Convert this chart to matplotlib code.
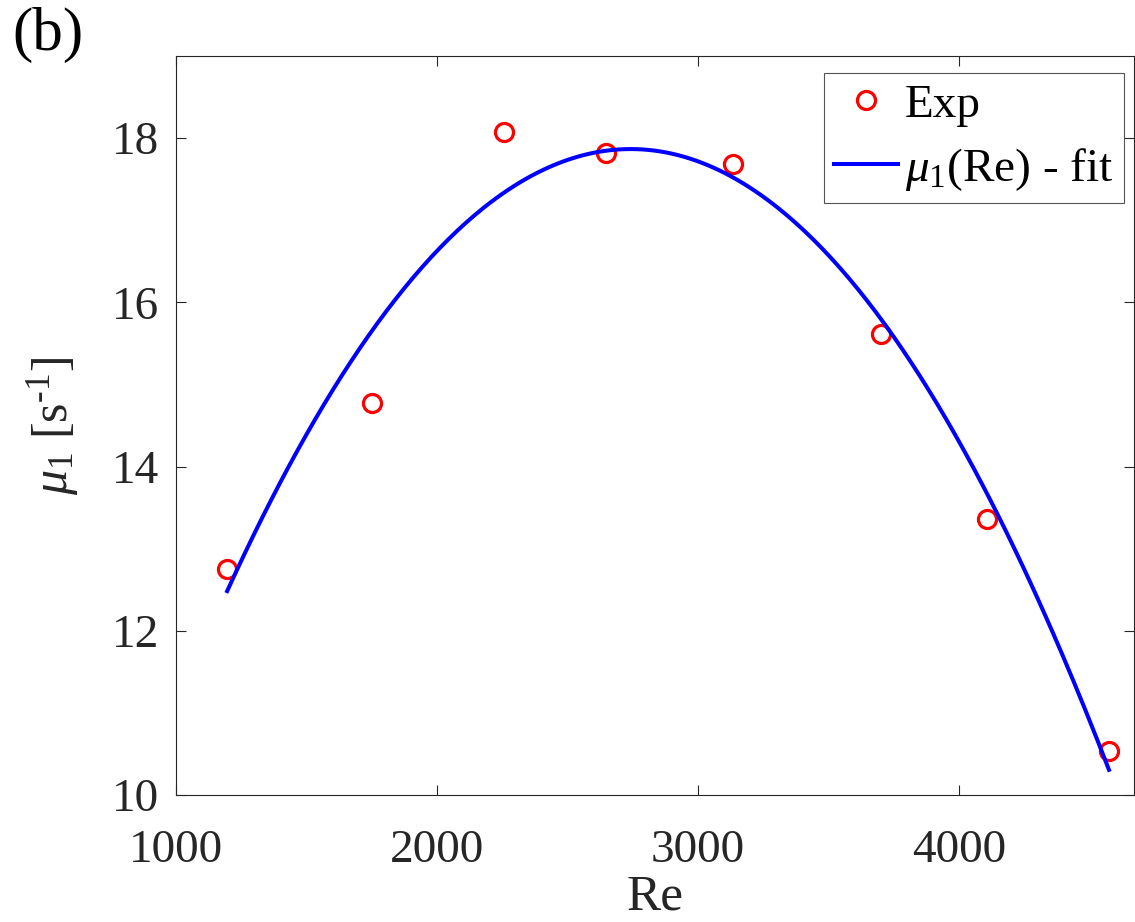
import numpy as np
import matplotlib
matplotlib.use("Agg")
import matplotlib.pyplot as plt

# ====================== 字体与样式 ======================
plt.rcParams["font.family"] = ["Liberation Serif", "DejaVu Serif"]
plt.rcParams["mathtext.fontset"] = "custom"
plt.rcParams["mathtext.rm"] = "Liberation Serif"
plt.rcParams["mathtext.it"] = "Liberation Serif:italic"
plt.rcParams["mathtext.bf"] = "Liberation Serif:bold"

# ====================== 实验数据 ======================
re_exp = [1197, 1753, 2255, 2647, 3134, 3700, 4106, 4573]
mu_exp = [12.75, 14.77, 18.08, 17.82, 17.68, 15.62, 13.36, 10.54]

x_ticks = [1000, 2000, 3000, 4000]
y_ticks = [10, 12, 14, 16, 18]

axis_gray = "#262626"

# 二次多项式拟合 mu_1(Re)
coef = np.polyfit(re_exp, mu_exp, 2)
re_fit = np.linspace(min(re_exp), max(re_exp), 300)
mu_fit = np.polyval(coef, re_fit)

fig = plt.figure(figsize=(11.35, 9.22), dpi=100)
ax = fig.add_axes([0.1548, 0.1376, 0.8439, 0.8017])

ax.plot(re_exp, mu_exp, linestyle="none", marker="o", markersize=13,
        markerfacecolor="none", markeredgecolor="red", markeredgewidth=2.3,
        label="Exp")
ax.plot(re_fit, mu_fit, color="blue", linewidth=2.9,
        label=r"$\mu_1$(Re) - fit")

ax.set_xlim(1000, 4667)
ax.set_ylim(10, 19)
ax.set_xticks(x_ticks)
ax.set_yticks(y_ticks)

ax.tick_params(direction="in", length=7, width=0.8, top=True, right=True,
               labelsize=34, colors=axis_gray, labelcolor=axis_gray)
ax.tick_params(axis="x", pad=25)
ax.tick_params(axis="y", pad=12)
for sp in ax.spines.values():
    sp.set_color(axis_gray)
    sp.set_linewidth(0.8)

ax.set_xlabel("Re", fontsize=37, color=axis_gray, labelpad=1)
ax.set_ylabel(r"$\mu_1$ [s$^{\text{-}1}$]", fontsize=36, color=axis_gray,
              labelpad=22)

leg = ax.legend(loc="upper right", bbox_to_anchor=(0.9899, 0.9766),
                borderaxespad=0, fontsize=34, frameon=True, fancybox=False,
                framealpha=1, edgecolor="#555555", handlelength=1.35,
                handletextpad=0.15, borderpad=0.22, labelspacing=0.4)
leg.get_frame().set_linewidth(0.8)

fig.text(0.0106, 0.992, "(b)", fontsize=44, va="top", ha="left")

fig.savefig("out.png", dpi=100)
